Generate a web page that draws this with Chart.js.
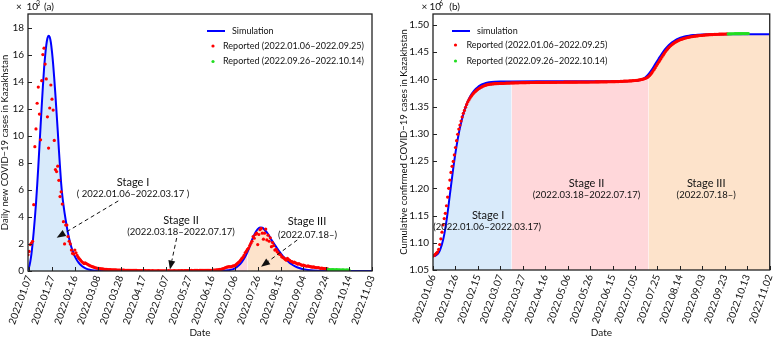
<!DOCTYPE html>
<html><head><meta charset="utf-8">
<script src="https://cdn.jsdelivr.net/npm/chart.js@4.4.1/dist/chart.umd.min.js"></script>
<style>
html,body{margin:0;padding:0;background:#fff;}
#wrap{position:relative;width:784px;height:339px;overflow:hidden;background:#fff;}
#ca{position:absolute;left:0;top:0;}
#cb{position:absolute;left:392px;top:0;}
</style></head><body>
<div id="wrap"><canvas id="ca" width="392" height="339"></canvas><canvas id="cb" width="392" height="339"></canvas></div>
<script>
// ---------- (a) daily new cases, thousands ----------
const tickDaysA = [1,21,41,61,81,101,121,141,161,181,201,221,241,261,281,301];
const tickLabelsA = ['2022.01.07','2022.01.27','2022.02.16','2022.03.08','2022.03.28','2022.04.17','2022.05.07','2022.05.27','2022.06.16','2022.07.06','2022.07.26','2022.08.15','2022.09.04','2022.09.24','2022.10.14','2022.11.03'];
const yTicksA = [0,2,4,6,8,10,12,14,16,18];
const simDaysA = [0,1,2,3,4,5,6,7,8,9,10,11,12,13,14,15,16,17,18,19,20,21,22,23,24,25,26,27,28,29,30,31,32,33,34,35,36,37,38,39,40,41,42,43,44,45,46,
  48,50,52,54,56,60,65,70,80,100,130,160,170,175,178,181,184,187,190,192,194,196,199,201,203,205,207,209,211,213,215,217,219,221,223,225,227,229,231,233,236,240,245,250,260,280,301];
const simValsA = [0.1,0.3,0.7,1.25,2.0,2.9,3.9,5.0,6.3,7.7,
  9.2,10.7,12.2,13.6,14.9,15.9,16.7,17.2,17.4,17.3,
  16.9,16.2,15.3,14.2,13.0,11.7,10.4,9.0,7.7,6.5,
  5.6,4.9,4.3,3.75,3.25,2.8,2.4,2.05,1.75,1.5,
  1.28,1.08,0.92,0.78,0.66,0.55,0.46,
  0.31,0.21,0.14,0.09,0.06,0.03,0.015,0.01,0.005,0.003,0.003,0.01,0.03,0.06,0.1,0.2,0.38,0.65,1.05,1.4,1.8,2.3,2.85,3.1,3.22,3.2,3.05,2.85,2.6,2.3,2.05,1.8,1.55,1.32,1.1,0.92,0.75,0.6,0.48,0.38,0.26,0.15,0.07,0.03,0.01,0.003,0.002];
const redStartA = 0; // 2022.01.06
const redValsA = [
  1.2,1.45,1.95,2.07,2.2,4.9,9.19,10.5,12.4,13.6,
  11.6,9.7,14.07,16.0,16.47,15.3,14.2,11.4,9.09,12.05,
  13.75,12.7,11.9,9.65,7.5,7.35,7.75,6.7,5.5,5.85,
  4.95,3.65,2.0,3.4,3.4,2.55,2.2,2.0,1.55,1.3,
  1.25,1.55,1.35,1.15,1.0,0.9,0.8,0.7,0.62,0.55,
  0.6,0.55,0.5,0.45,0.4,0.37,0.33,0.3,0.27,0.24,
  0.22,0.2,0.19,0.17,0.16,0.15,0.14,0.13,0.12,0.12,
  0.11,0.1,0.1,0.09,0.09,0.08,0.08,0.08,0.07,0.07,
  0.07,0.06,0.06,0.06,0.06,0.05,0.05,0.05,0.05,0.05,
  0.04,0.04,0.04,0.04,0.04,0.04,0.03,0.03,0.03,0.03,
  0.03,0.03,0.03,0.03,0.02,0.03,0.03,0.02,0.02,0.03,
  0.02,0.02,0.02,0.02,0.03,0.02,0.02,0.02,0.02,0.02,
  0.02,0.02,0.02,0.03,0.02,0.02,0.02,0.02,0.03,0.02,
  0.02,0.02,0.03,0.02,0.03,0.03,0.02,0.03,0.03,0.03,
  0.03,0.03,0.03,0.04,0.03,0.03,0.04,0.04,0.04,0.03,
  0.04,0.04,0.04,0.05,0.04,0.04,0.05,0.05,0.05,0.05,
  0.05,0.05,0.06,0.06,0.07,0.08,0.09,0.1,0.12,0.13,
  0.15,0.18,0.22,0.25,0.28,0.3,0.32,0.3,0.33,0.36,
  0.38,0.4,0.47,0.55,0.62,0.7,0.8,0.92,1.0,1.15,
  1.35,1.45,1.6,1.7,1.88,2.05,2.2,2.55,2.42,2.7,
  2.8,1.95,2.7,3.05,3.15,2.8,2.35,2.8,3.1,2.3,
  2.65,2.2,2.45,1.8,2.1,1.88,1.55,1.6,1.43,1.35,
  1.24,1.2,1.06,1.0,0.95,0.86,0.8,0.94,0.85,0.79,
  0.72,0.69,0.62,0.65,0.6,0.57,0.5,0.55,0.5,0.45,
  0.42,0.44,0.4,0.37,0.35,0.38,0.34,0.32,0.3,0.28,
  0.3,0.27,0.25,0.24,0.26,0.22,0.2,0.21,0.2,0.18,
  0.17,0.16,0.15];
const greenStartA = 263; // 2022.09.26
const greenValsA = [0.12,0.1,0.09,0.11,0.1,0.09,0.08,0.1,0.09,0.08,0.08,0.07,0.09,0.08,0.07,0.07,0.08,0.07,0.06];

// ---------- (b) cumulative cases, millions ----------
const tickDaysB = [0,20,40,60,80,100,120,140,160,180,200,220,240,260,280,300];
const tickLabelsB = ['2022.01.06','2022.01.26','2022.02.15','2022.03.07','2022.03.27','2022.04.16','2022.05.06','2022.05.26','2022.06.15','2022.07.05','2022.07.25','2022.08.14','2022.09.03','2022.09.23','2022.10.13','2022.11.02'];
const yTicksB = [1.05,1.10,1.15,1.20,1.25,1.30,1.35,1.40,1.45,1.50];
const simDaysB = [0,1,2,3,4,5,6,7,8,9,10,11,12,13,14,15,16,17,18,19,20,21,22,23,24,25,26,27,28,29,30,31,32,33,34,35,36,37,38,39,40,
  42,44,46,48,50,55,60,70,100,150,170,175,180,183,186,189,192,195,198,201,204,207,210,213,216,219,222,225,228,232,236,240,250,260,280,300];
const simValsB = [1.0755,1.0757,1.0762,1.0772,1.079,1.0818,1.0857,1.091,1.0975,1.1055,
  1.115,1.127,1.14,1.155,1.171,1.188,1.204,1.22,1.236,1.251,
  1.265,1.278,1.29,1.301,1.311,1.32,1.3285,1.336,1.343,1.349,
  1.3545,1.3595,1.364,1.368,1.3715,1.3747,1.3775,1.38,1.3822,1.3842,1.386,
  1.3888,1.391,1.3925,1.3937,1.3945,1.3955,1.396,1.3963,1.3965,1.3966,1.3967,1.3968,1.397,1.398,1.3998,1.4035,1.4095,1.418,1.428,1.438,1.4475,1.4558,1.4628,1.4682,1.4722,1.4752,1.4774,1.479,1.4802,1.4813,1.482,1.4824,1.4828,1.483,1.483,1.483];
const redStartB = 0;
const redValsB = [
  1.0755,1.0768,1.0787,1.0808,1.083,1.0878,1.0968,1.1072,1.1195,1.133,
  1.1445,1.1541,1.168,1.1838,1.2,1.2151,1.2291,1.2404,1.2494,1.2613,
  1.2749,1.2874,1.2992,1.3087,1.3161,1.3234,1.331,1.3376,1.343,1.3488,
  1.354,1.3585,1.3622,1.3657,1.3688,1.3716,1.3741,1.3763,1.3783,1.3801,
  1.3817,1.3832,1.3845,1.3857,1.3868,1.3878,1.3886,1.3893,1.3899,1.3904,
  1.3908,1.3911,1.3914,1.3916,1.3918,1.392,1.3921,1.3922,1.3923,1.3924,
  1.3925,1.3926,1.3927,1.3928,1.3929,1.393,1.3931,1.3931,1.3932,1.3933,
  1.3934,1.3935,1.3935,1.3936,1.3936,1.3937,1.3937,1.3938,1.3938,1.3939,
  1.3939,1.394,1.394,1.394,1.3941,1.3941,1.3941,1.3942,1.3942,1.3942,
  1.3942,1.3943,1.3943,1.3943,1.3943,1.3944,1.3944,1.3944,1.3944,1.3944,
  1.3945,1.3945,1.3945,1.3945,1.3945,1.3946,1.3946,1.3946,1.3946,1.3946,
  1.3946,1.3947,1.3947,1.3947,1.3947,1.3947,1.3947,1.3948,1.3948,1.3948,
  1.3948,1.3948,1.3948,1.3949,1.3949,1.3949,1.3949,1.3949,1.3949,1.395,
  1.395,1.395,1.395,1.395,1.395,1.3951,1.3951,1.3951,1.3951,1.3951,
  1.3952,1.3952,1.3952,1.3952,1.3952,1.3953,1.3953,1.3953,1.3953,1.3954,
  1.3954,1.3954,1.3954,1.3955,1.3955,1.3955,1.3956,1.3956,1.3956,1.3957,
  1.3957,1.3958,1.3958,1.3959,1.3959,1.396,1.3961,1.3962,1.3963,1.3964,
  1.3966,1.3967,1.3968,1.3969,1.397,1.3971,1.3972,1.3974,1.3975,1.3977,
  1.3979,1.3981,1.3984,1.3987,1.399,1.3994,1.3998,1.4003,1.4009,1.4016,
  1.4025,1.4036,1.4052,1.4072,1.4096,1.4123,1.4152,1.4183,1.4215,1.4248,
  1.4281,1.4314,1.4347,1.438,1.4412,1.4444,1.4476,1.4506,1.4533,1.4558,
  1.4582,1.4603,1.4622,1.464,1.4656,1.467,1.4683,1.4695,1.4706,1.4716,
  1.4725,1.4733,1.474,1.4747,1.4753,1.4759,1.4764,1.4769,1.4774,1.4778,
  1.4782,1.4786,1.4789,1.4792,1.4795,1.4798,1.48,1.4803,1.4805,1.4807,
  1.4809,1.4811,1.4813,1.4815,1.4817,1.4818,1.482,1.4821,1.4822,1.4823,
  1.4824,1.4825,1.4826,1.4827,1.4828,1.4829,1.483,1.4831,1.4831,1.4832,
  1.4833,1.4833,1.4834];
const greenStartB = 263;
const greenValsB = [1.4835,1.4835,1.4836,1.4836,1.4837,1.4837,1.4838,1.4838,1.4838,1.4839,1.4839,1.4839,1.484,1.484,1.484,1.4841,1.4841,1.4841,1.4842];

// stage boundaries (day index from 2022.01.06)
const stageEnds = [70, 192];

// ---------- helpers ----------
const FONT = 'Lato, "Open Sans", sans-serif';
const TXT = '#111';
Chart.defaults.font.family = FONT;
Chart.defaults.color = TXT;
const STAGE_COLORS = ['rgb(216,234,250)','rgb(255,215,218)','rgb(253,227,203)'];

function xy(days, vals){ return days.map((d,i)=>({x:d, y:vals[i]})); }
function seq(start, vals){ return vals.map((v,i)=>({x:start+i, y:v})); }
function part(pts, lo, hi){ return pts.filter(p=>p.x>=lo && p.x<=hi); }

function drawArrow(ctx,x1,y1,x2,y2){
  const dx=x2-x1, dy=y2-y1, L=Math.hypot(dx,dy), ux=dx/L, uy=dy/L;
  const hl=9, hw=3.5, bx=x2-ux*hl, by=y2-uy*hl;
  ctx.save();
  ctx.strokeStyle='#111'; ctx.fillStyle='#111'; ctx.lineWidth=1; ctx.setLineDash([4,3]);
  ctx.beginPath(); ctx.moveTo(x1,y1); ctx.lineTo(bx,by); ctx.stroke();
  ctx.setLineDash([]);
  ctx.beginPath(); ctx.moveTo(x2,y2); ctx.lineTo(bx-uy*hw,by+ux*hw); ctx.lineTo(bx+uy*hw,by-ux*hw); ctx.closePath(); ctx.fill();
  ctx.restore();
}

function decor(cfg){
  return {id:'decor', afterDraw(chart){
    const {ctx, chartArea:a, scales:{x,y}} = chart;
    ctx.save();
    // inward ticks + frame
    ctx.strokeStyle='#222'; ctx.lineWidth=1; ctx.beginPath();
    cfg.xTicks.forEach(v=>{const p=Math.round(x.getPixelForValue(v))+0.5; ctx.moveTo(p,a.bottom); ctx.lineTo(p,a.bottom-4);});
    cfg.yTicks.forEach(v=>{const p=Math.round(y.getPixelForValue(v))+0.5; ctx.moveTo(a.left,p); ctx.lineTo(a.left+4,p);});
    ctx.stroke();
    ctx.lineWidth=1.3; ctx.strokeRect(a.left, a.top, a.right-a.left, a.bottom-a.top);
    // header  "× 10^n (a)"
    ctx.fillStyle=TXT; ctx.textBaseline='middle'; ctx.textAlign='left';
    const h=cfg.header;
    ctx.font='10px '+FONT; ctx.fillText('×', h.x0, 6.5);
    ctx.fillText('10', h.x1, 6.5);
    ctx.font='7px '+FONT; ctx.fillText(h.exp, h.x2, 3.5);
    ctx.font='10px '+FONT; ctx.fillText(h.tag, h.x3, 6.5);
    // legend
    const g=cfg.legend;
    ctx.strokeStyle='#0000ff'; ctx.lineWidth=2; ctx.beginPath(); ctx.moveTo(g.lx0,g.y0); ctx.lineTo(g.lx1,g.y0); ctx.stroke();
    ctx.fillStyle='#ff0000'; ctx.beginPath(); ctx.arc(g.dx,g.y1,1.6,0,Math.PI*2); ctx.fill();
    ctx.fillStyle='#22dd22'; ctx.beginPath(); ctx.arc(g.dx,g.y2,1.6,0,Math.PI*2); ctx.fill();
    ctx.fillStyle=TXT; ctx.font='9px '+FONT;
    ctx.fillText(g.t0, g.tx0, g.y0);
    ctx.fillText('Reported (2022.01.06–2022.09.25)', g.tx1, g.y1);
    ctx.fillText('Reported (2022.09.26–2022.10.14)', g.tx1, g.y2);
    // stage annotations (positioned in data units)
    ctx.textAlign='center';
    cfg.notes.forEach(n=>{
      ctx.font=n.size+'px '+FONT;
      ctx.fillText(n.text, x.getPixelForValue(n.d), y.getPixelForValue(n.v));
    });
    cfg.arrows.forEach(r=>{
      drawArrow(ctx, x.getPixelForValue(r[0]), y.getPixelForValue(r[1]), x.getPixelForValue(r[2]), y.getPixelForValue(r[3]));
    });
    ctx.restore();
  }};
}

function build(id, cfg){
  const sim = xy(cfg.simDays, cfg.simVals);
  const ranges = [[0,stageEnds[0]],[stageEnds[0],stageEnds[1]],[stageEnds[1],1e9]];
  const fills = ranges.map((r,i)=>({data:part(sim,r[0],r[1]), fill:'start', backgroundColor:STAGE_COLORS[i],
    borderWidth:0, borderColor:'rgba(0,0,0,0)', pointRadius:0, order:10, cubicInterpolationMode:'monotone'}));
  return new Chart(document.getElementById(id), {
    type:'line',
    data:{datasets:[...fills,
      {data:sim, borderColor:'#0000ff', borderWidth:2, pointRadius:0, fill:false, order:5, cubicInterpolationMode:'monotone'},
      {data:cfg.red, showLine:false, pointRadius:1.6, pointBackgroundColor:'#ff0000', pointBorderColor:'#ff0000', pointBorderWidth:0, order:2},
      {data:cfg.green, showLine:false, pointRadius:1.6, pointBackgroundColor:'#22dd22', pointBorderColor:'#22dd22', pointBorderWidth:0, order:1}
    ]},
    options:{
      responsive:false, animation:false, devicePixelRatio:1,
      layout:{padding:cfg.pad},
      plugins:{legend:{display:false}, tooltip:{enabled:false}},
      scales:{
        x:{type:'linear', min:cfg.xmin, max:cfg.xmax,
          grid:{display:false, drawTicks:false}, border:{display:false},
          afterBuildTicks:s=>{s.ticks=cfg.xTicks.map(v=>({value:v}));},
          afterFit:s=>{s.height=cfg.xh;},
          ticks:{autoSkip:false, minRotation:70, maxRotation:70, padding:3, font:{size:10}, color:TXT,
            callback:v=>cfg.xLabels[cfg.xTicks.indexOf(v)]},
          title:{display:true, text:'Date', font:{size:10, lineHeight:1.1}, padding:{top:0,bottom:1}, color:TXT}},
        y:{type:'linear', min:cfg.ymin, max:cfg.ymax,
          grid:{display:false, drawTicks:false}, border:{display:false},
          afterBuildTicks:s=>{s.ticks=cfg.yTicks.map(v=>({value:v}));},
          afterFit:s=>{s.width=cfg.yw;},
          ticks:{padding:4, font:{size:10}, color:TXT, callback:v=>cfg.yFmt(v)},
          title:{display:true, text:cfg.ytitle, font:{size:9.5, lineHeight:1.1}, padding:{top:0,bottom:0}, color:TXT}}
      }
    },
    plugins:[decor(cfg)]
  });
}

build('ca', {
  simDays:simDaysA, simVals:simValsA,
  red:seq(redStartA, redValsA), green:seq(greenStartA, greenValsA),
  xmin:0, xmax:301, ymin:0, ymax:19, xTicks:tickDaysA, xLabels:tickLabelsA, yTicks:yTicksA,
  yFmt:v=>String(v), ytitle:'Daily new COVID−19 cases in Kazakhstan',
  pad:{left:0, top:14, right:20, bottom:0}, xh:68, yw:28,
  header:{x0:16, x1:26.5, x2:36, x3:44, exp:'3', tag:'(a)'},
  legend:{lx0:207, lx1:225, tx0:232, dx:213, tx1:223, y0:31, y1:46, y2:61.5, t0:'Simulation'},
  notes:[
    {text:'Stage I', d:91.9, v:6.58, size:11},
    {text:'( 2022.01.06–2022.03.17 )', d:91.9, v:5.69, size:9.5},
    {text:'Stage II', d:133.9, v:3.77, size:11},
    {text:'(2022.03.18–2022.07.17)', d:133.9, v:2.86, size:9.5},
    {text:'Stage III', d:244.1, v:3.64, size:11},
    {text:'(2022.07.18–)', d:244.6, v:2.66, size:9.5}
  ],
  arrows:[[79.0,5.18,25.1,2.46],[130.1,2.44,124.2,0.11],[235.6,2.29,203.9,0.32]]
});

build('cb', {
  simDays:simDaysB, simVals:simValsB,
  red:seq(redStartB, redValsB), green:seq(greenStartB, greenValsB),
  xmin:0, xmax:300, ymin:1.05, ymax:1.52, xTicks:tickDaysB, xLabels:tickLabelsB, yTicks:yTicksB,
  yFmt:v=>v.toFixed(2), ytitle:'Cumulative confirmed COVID−19 cases in Kazakhstan',
  pad:{left:7, top:14, right:9, bottom:0}, xh:69, yw:34,
  header:{x0:29.5, x1:37.5, x2:47, x3:57.3, exp:'6', tag:'(b)'},
  legend:{lx0:60, lx1:78, tx0:85, dx:63.5, tx1:74.5, y0:31, y1:45, y2:61, t0:'simulation'},
  notes:[
    {text:'Stage I', d:49.1, v:1.1497, size:11},
    {text:'(2022.01.06–2022.03.17)', d:48.2, v:1.1284, size:9.5},
    {text:'Stage II', d:136.8, v:1.2097, size:11},
    {text:'(2022.03.18–2022.07.17)', d:136.8, v:1.1877, size:9.5},
    {text:'Stage III', d:243.4, v:1.2092, size:11},
    {text:'(2022.07.18–)', d:243.4, v:1.1877, size:9.5}
  ],
  arrows:[]
});
</script>
</body></html>
